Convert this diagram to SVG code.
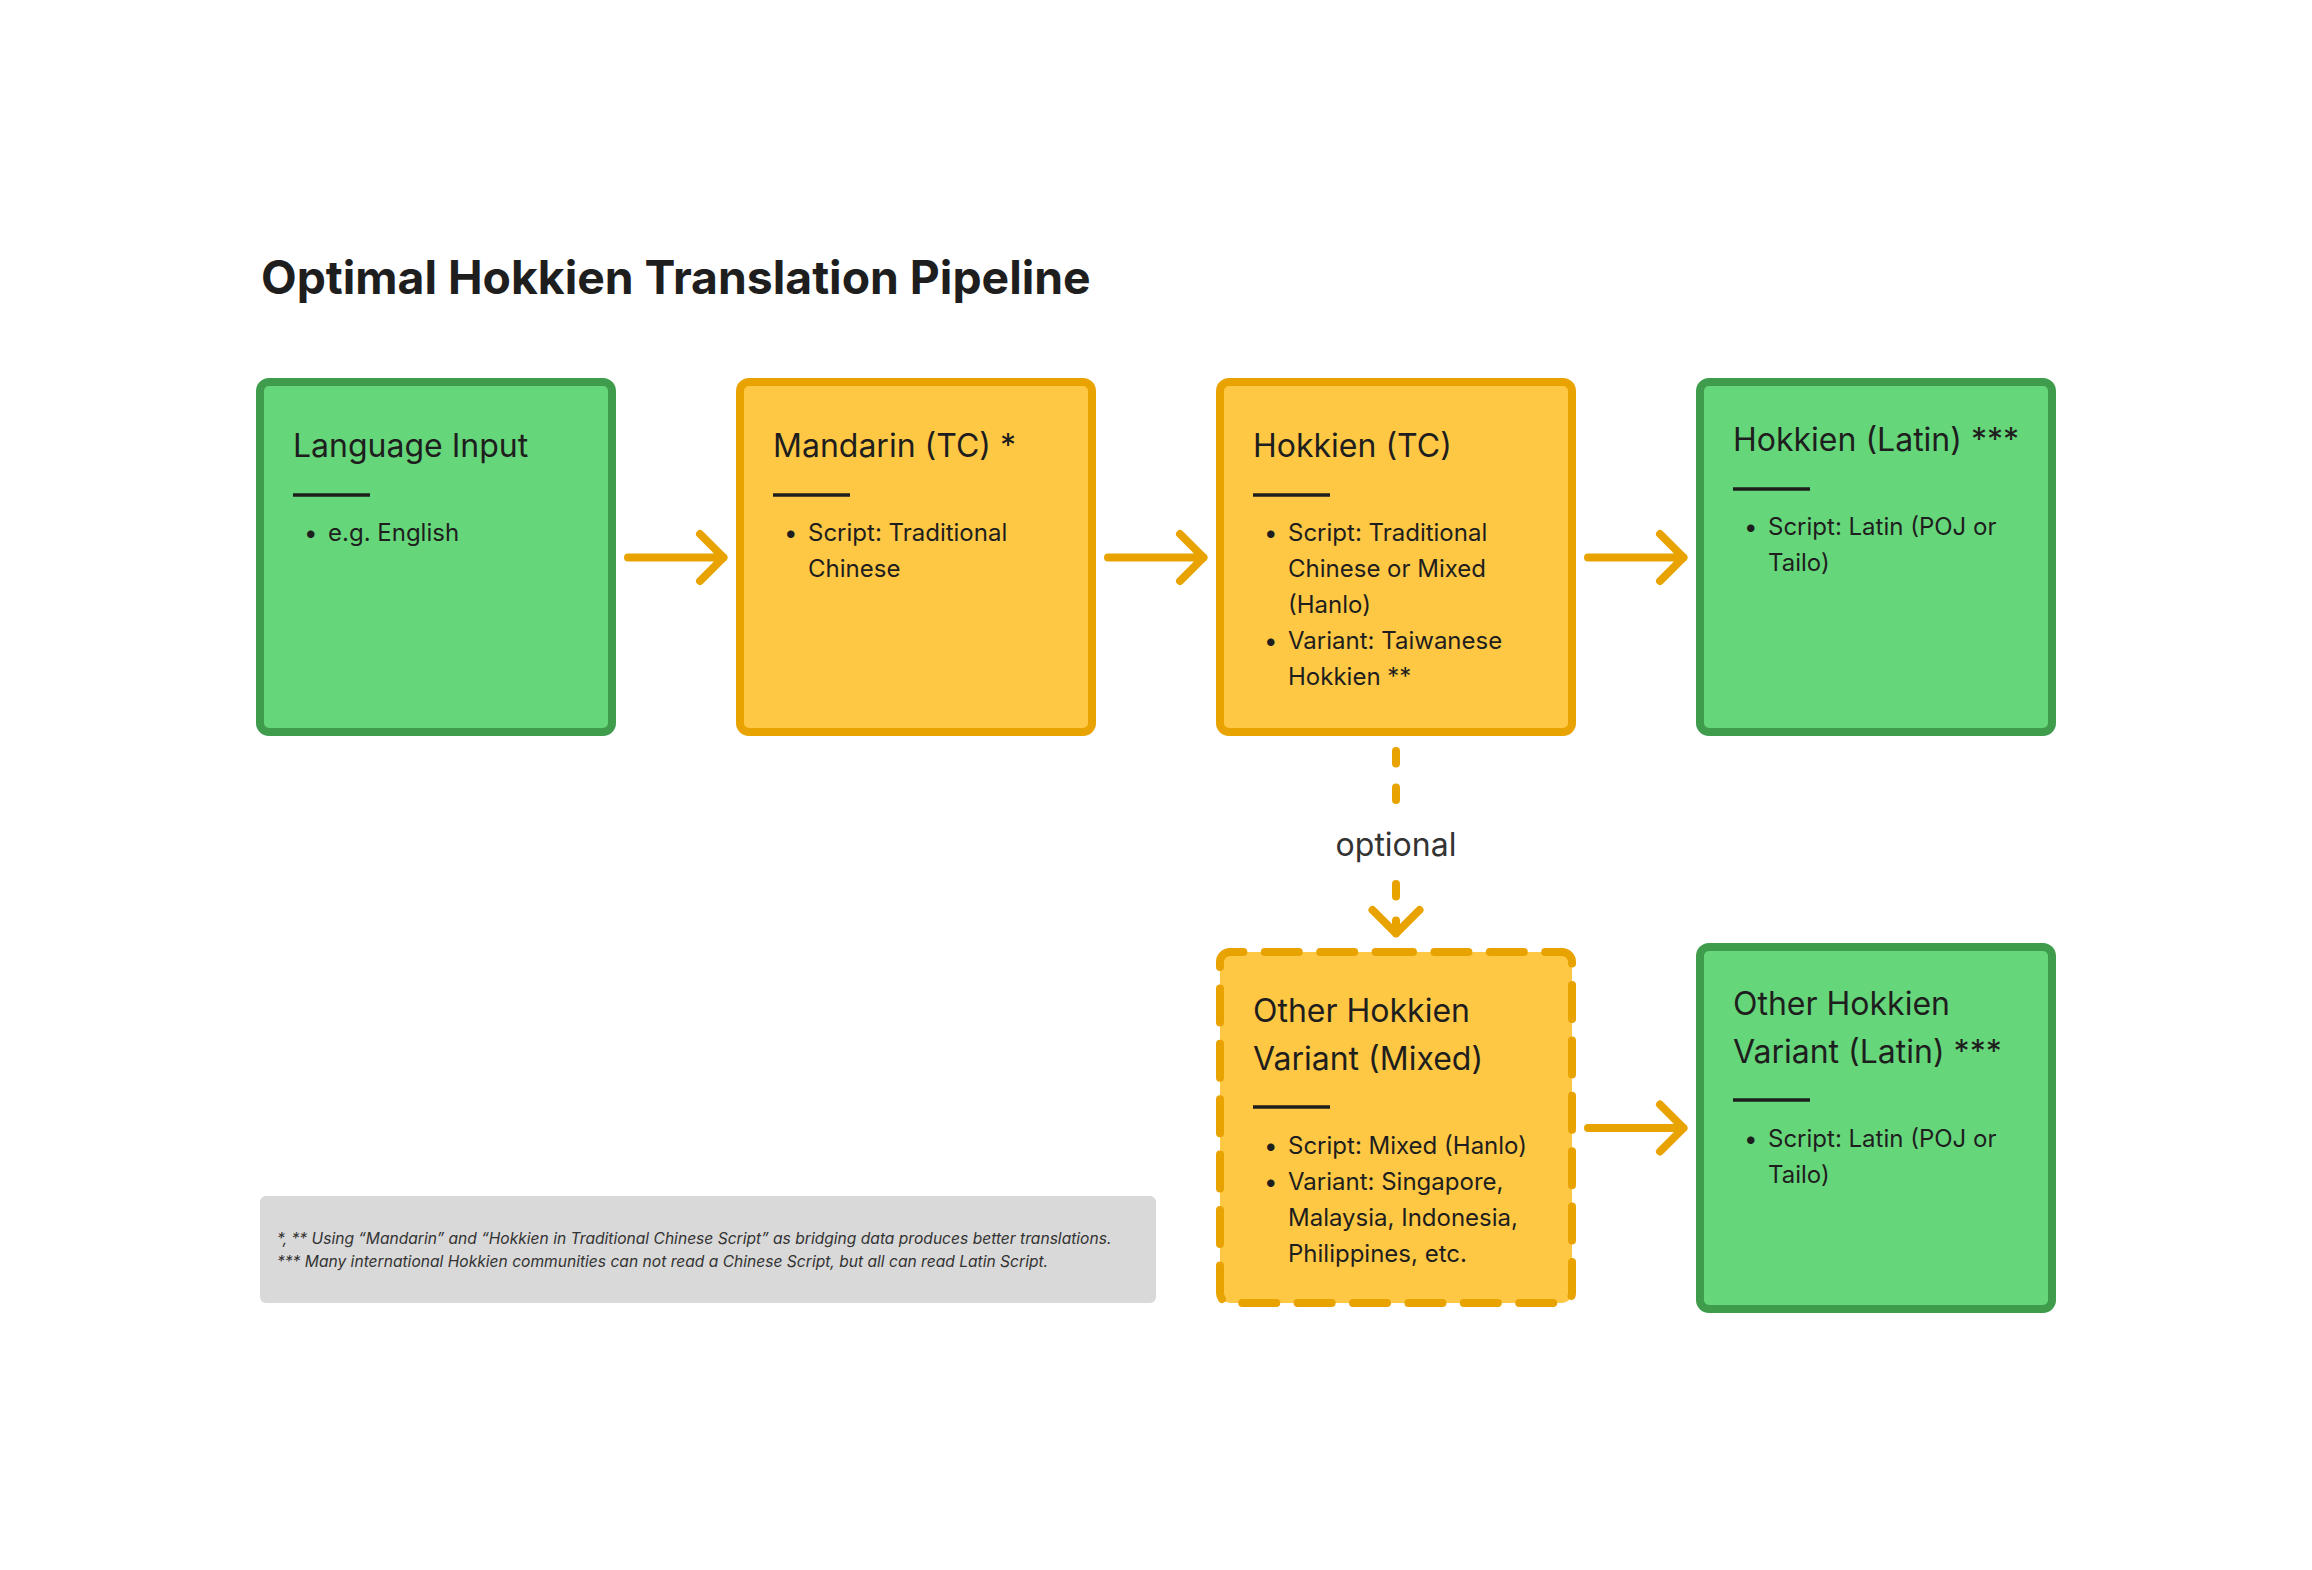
<svg xmlns="http://www.w3.org/2000/svg" width="2312" height="1570" viewBox="0 0 2312 1570">
<defs>
<style>
text{font-family:Inter,"Liberation Sans",sans-serif;fill:#1e1e1e}
.title{font-size:46.3px;font-weight:700}
.h{font-size:32px}
.b{font-size:24px}
.foot{font-size:15.6px;font-style:italic;fill:#333}
.green{fill:#66d67a;stroke:#3f9c4d;stroke-width:8}
.yellow{fill:#fec844;stroke:#e8a300;stroke-width:8}
.dashed{fill:#fec844;stroke:#e8a300;stroke-width:8;stroke-dasharray:34 21.4;stroke-linecap:round}
.div{stroke:#1e1e1e;stroke-width:3.5}
.arrow{fill:none;stroke:#e8a300;stroke-width:8;stroke-linecap:round;stroke-linejoin:round}
</style>
</defs>
<rect width="2312" height="1570" fill="#ffffff"/>
<text class="title" x="261" y="294">Optimal Hokkien Translation Pipeline</text>

<g id="connectors">
<path class="arrow" d="M628,557.5 H723.5 M700,534 L723.5,557.5 L700,581"/>
<path class="arrow" d="M1108,557.5 H1203.5 M1180,534 L1203.5,557.5 L1180,581"/>
<path class="arrow" d="M1588,557.5 H1683.5 M1660,534 L1683.5,557.5 L1660,581"/>
<path class="arrow" d="M1588,1128 H1683.5 M1660,1104.5 L1683.5,1128 L1660,1151.5"/>
<path class="arrow" d="M1396,751 V763.5 M1396,787.5 V800 M1396,884 V896.5 M1396,920.5 V933.5 M1372.5,910 L1396,933.5 L1419.5,910"/>
<text x="1396" y="856" class="h" text-anchor="middle" style="fill:#333">optional</text>
</g>

<g id="node-language-input">
<rect class="green" x="260" y="382" width="352" height="350" rx="9"/>
<text class="h" x="293" y="457">Language Input</text>
<line class="div" x1="293" y1="495" x2="370" y2="495"/>
<text class="b" x="304" y="541">•</text>
<text class="b" x="328" y="541">e.g. English</text>
</g>

<g id="node-mandarin">
<rect class="yellow" x="740" y="382" width="352" height="350" rx="9"/>
<text class="h" x="773" y="457">Mandarin (TC) *</text>
<line class="div" x1="773" y1="495" x2="850" y2="495"/>
<text class="b" x="784" y="541">•</text>
<text class="b" x="808" y="541">Script: Traditional</text>
<text class="b" x="808" y="577">Chinese</text>
</g>

<g id="node-hokkien-tc">
<rect class="yellow" x="1220" y="382" width="352" height="350" rx="9"/>
<text class="h" x="1253" y="457">Hokkien (TC)</text>
<line class="div" x1="1253" y1="495" x2="1330" y2="495"/>
<text class="b" x="1264" y="541">•</text>
<text class="b" x="1288" y="541">Script: Traditional</text>
<text class="b" x="1288" y="577">Chinese or Mixed</text>
<text class="b" x="1288" y="613">(Hanlo)</text>
<text class="b" x="1264" y="649">•</text>
<text class="b" x="1288" y="649">Variant: Taiwanese</text>
<text class="b" x="1288" y="685">Hokkien **</text>
</g>

<g id="node-hokkien-latin">
<rect class="green" x="1700" y="382" width="352" height="350" rx="9"/>
<text class="h" x="1733" y="451">Hokkien (Latin) ***</text>
<line class="div" x1="1733" y1="489" x2="1810" y2="489"/>
<text class="b" x="1744" y="535">•</text>
<text class="b" x="1768" y="535">Script: Latin (POJ or</text>
<text class="b" x="1768" y="571">Tailo)</text>
</g>

<g id="node-other-mixed">
<path class="dashed" d="M1396,952 H1562 A10,10 0 0 1 1572,962 V1293 A10,10 0 0 1 1562,1303 H1230 A10,10 0 0 1 1220,1293 V962 A10,10 0 0 1 1230,952 Z" style="stroke-dashoffset:17"/>
<text class="h" x="1253" y="1022">Other Hokkien</text>
<text class="h" x="1253" y="1070">Variant (Mixed)</text>
<line class="div" x1="1253" y1="1107" x2="1330" y2="1107"/>
<text class="b" x="1264" y="1154">•</text>
<text class="b" x="1288" y="1154">Script: Mixed (Hanlo)</text>
<text class="b" x="1264" y="1190">•</text>
<text class="b" x="1288" y="1190">Variant: Singapore,</text>
<text class="b" x="1288" y="1226">Malaysia, Indonesia,</text>
<text class="b" x="1288" y="1262">Philippines, etc.</text>
</g>

<g id="node-other-latin">
<rect class="green" x="1700" y="947" width="352" height="362" rx="9"/>
<text class="h" x="1733" y="1015">Other Hokkien</text>
<text class="h" x="1733" y="1063">Variant (Latin) ***</text>
<line class="div" x1="1733" y1="1100" x2="1810" y2="1100"/>
<text class="b" x="1744" y="1147">•</text>
<text class="b" x="1768" y="1147">Script: Latin (POJ or</text>
<text class="b" x="1768" y="1183">Tailo)</text>
</g>

<g id="footnote">
<rect x="260" y="1196" width="896" height="107" rx="6" fill="#d9d9d9"/>
<text class="foot" x="277" y="1244">*, ** Using “Mandarin” and “Hokkien in Traditional Chinese Script” as bridging data produces better translations.</text>
<text class="foot" x="277" y="1267">*** Many international Hokkien communities can not read a Chinese Script, but all can read Latin Script.</text>
</g>
</svg>
